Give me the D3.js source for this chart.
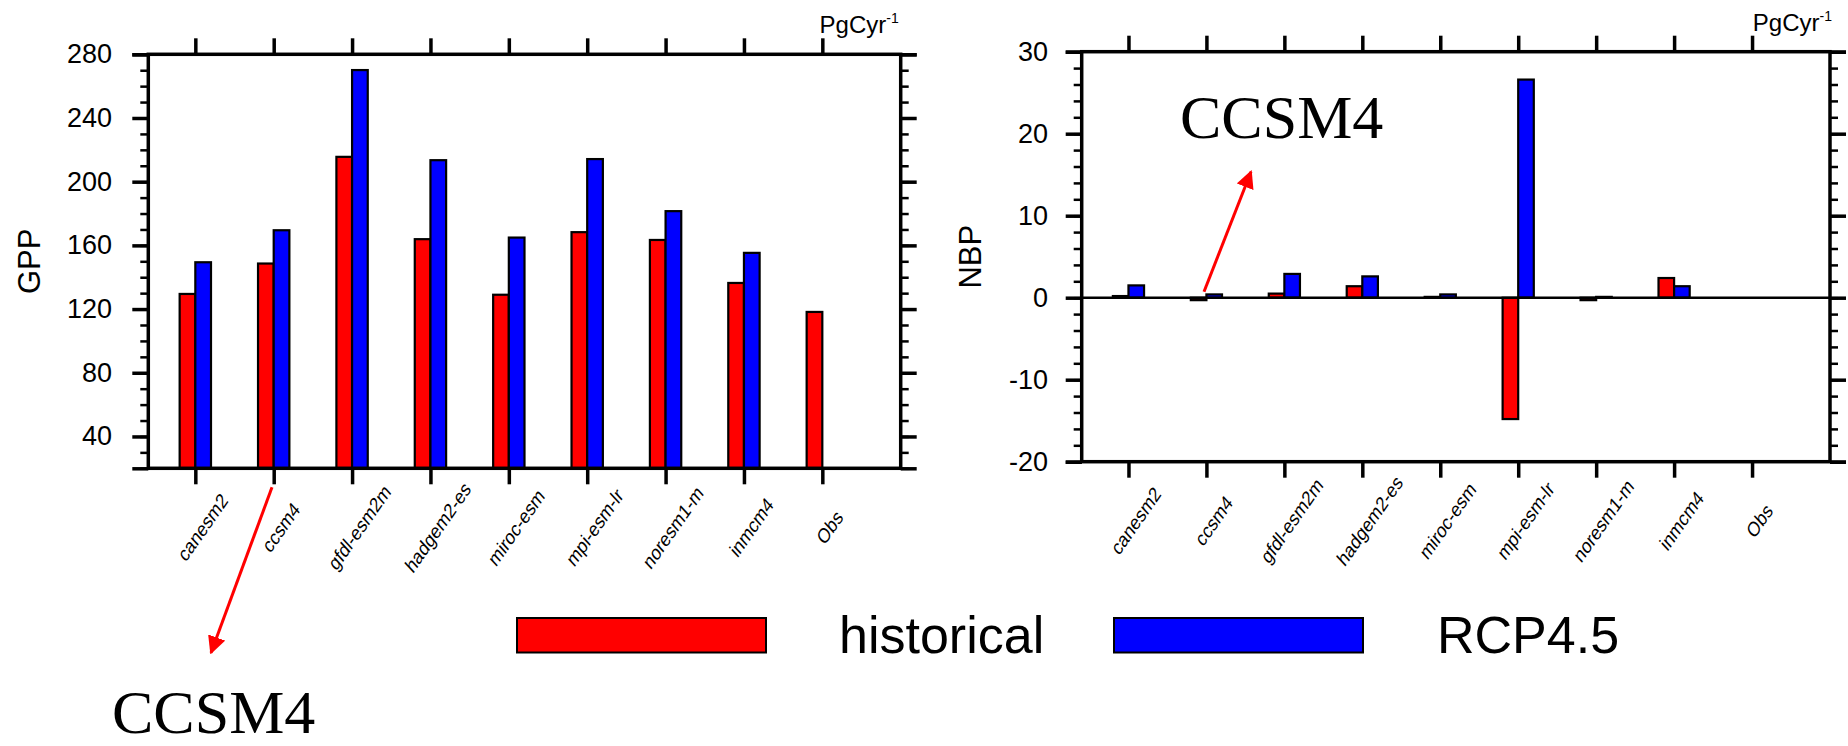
<!DOCTYPE html>
<html>
<head>
<meta charset="utf-8">
<script src="https://cdn.jsdelivr.net/npm/d3@7"></script>
<style>
  html, body { margin: 0; padding: 0; background: #fff; }
  svg { display: block; }
  text { font-family: "Liberation Sans", Arial, sans-serif; fill: #000; }
</style>
</head>
<body>
<svg id="chart" width="1848" height="746"></svg>
<script>
// ---------------- data ----------------
const categories = ["canesm2", "ccsm4", "gfdl-esm2m", "hadgem2-es", "miroc-esm", "mpi-esm-lr", "noresm1-m", "inmcm4", "Obs"];
const seriesNames = ["historical", "RCP4.5"];
const seriesColors = ["#ff0000", "#0000ff"];

const gppHistorical = [129.5, 148.6, 215.6, 163.9, 129.0, 168.3, 163.4, 136.4, 118.2];
const gppRCP45      = [149.4, 169.5, 270.1, 213.5, 164.9, 214.2, 181.5, 155.3, null];
const gppTicks = [40, 80, 120, 160, 200, 240, 280];
const gppMinorTicks = d3.range(20, 281, 10);

const nbpHistorical = [0.2, -0.3, 0.5, 1.4, 0.1, -14.8, -0.3, 2.4, null];
const nbpRCP45      = [1.5, 0.4, 2.9, 2.6, 0.4, 26.6, 0.1, 1.4, null];
const nbpTicks = [-20, -10, 0, 10, 20, 30];
const nbpMinorTicks = d3.range(-20, 31, 2);

const unitLabel = "PgCyr";

// ---------------- drawing ----------------
const svg = d3.select("#chart");

function drawPanel(cfg) {
  const g = svg.append("g");
  const x = d3.scaleLinear().domain([0.4, 10]).range([cfg.left, cfg.right]);
  const y = d3.scaleLinear().domain(cfg.yDomain).range([cfg.bottom, cfg.top]);
  const idx = categories.map((c, i) => i + 1);
  const base = cfg.baseline !== undefined ? cfg.baseline : cfg.yDomain[0];

  // bars
  const bw = 0.2;
  [cfg.hist, cfg.rcp].forEach((vals, s) => {
    g.append("g").selectAll("rect")
      .data(vals.map((v, i) => ({ v, i })).filter(d => d.v !== null))
      .join("rect")
      .attr("x", d => x(d.i + 1 + (s === 0 ? -bw : 0)))
      .attr("width", d => x(d.i + 1 + bw) - x(d.i + 1))
      .attr("y", d => y(Math.max(d.v, base)))
      .attr("height", d => Math.abs(y(d.v) - y(base)))
      .attr("fill", seriesColors[s])
      .attr("stroke", "#000")
      .attr("stroke-width", 2.2);
  });

  // zero reference line
  if (cfg.refLine !== undefined) {
    g.append("line")
      .attr("x1", cfg.left).attr("x2", cfg.right)
      .attr("y1", y(cfg.refLine)).attr("y2", y(cfg.refLine))
      .attr("stroke", "#000").attr("stroke-width", 2.5);
  }

  // frame
  g.append("rect")
    .attr("x", cfg.left).attr("y", cfg.top)
    .attr("width", cfg.right - cfg.left).attr("height", cfg.bottom - cfg.top)
    .attr("fill", "none").attr("stroke", "#000").attr("stroke-width", 3.5);

  function styleAxis(sel, w) {
    sel.select(".domain").remove();
    sel.selectAll(".tick line").attr("stroke", "#000").attr("stroke-width", w);
    sel.selectAll(".tick text").remove();
  }

  // y minor ticks (left & right)
  g.append("g").attr("transform", `translate(${cfg.left},0)`)
    .call(d3.axisLeft(y).tickValues(cfg.minorTicks).tickSize(8).tickFormat(""))
    .call(s => styleAxis(s, 2.5));
  g.append("g").attr("transform", `translate(${cfg.right},0)`)
    .call(d3.axisRight(y).tickValues(cfg.minorTicks).tickSize(8).tickFormat(""))
    .call(s => styleAxis(s, 2.5));
  // y major ticks
  g.append("g").attr("transform", `translate(${cfg.left},0)`)
    .call(d3.axisLeft(y).tickValues(cfg.ticks.concat(cfg.yDomain)).tickSize(16).tickFormat(""))
    .call(s => styleAxis(s, 3.5));
  g.append("g").attr("transform", `translate(${cfg.right},0)`)
    .call(d3.axisRight(y).tickValues(cfg.ticks.concat(cfg.yDomain)).tickSize(16).tickFormat(""))
    .call(s => styleAxis(s, 3.5));
  // x ticks (top & bottom)
  g.append("g").attr("transform", `translate(0,${cfg.top})`)
    .call(d3.axisTop(x).tickValues(idx).tickSize(16).tickFormat(""))
    .call(s => styleAxis(s, 3.5));
  g.append("g").attr("transform", `translate(0,${cfg.bottom})`)
    .call(d3.axisBottom(x).tickValues(idx).tickSize(16).tickFormat(""))
    .call(s => styleAxis(s, 3.5));

  // y tick labels
  g.append("g").selectAll("text")
    .data(cfg.ticks)
    .join("text")
    .attr("x", cfg.labelX)
    .attr("y", d => y(d))
    .attr("text-anchor", "end")
    .attr("dominant-baseline", "central")
    .attr("font-size", 27)
    .text(d => d);

  // category labels
  g.append("g").selectAll("text")
    .data(categories)
    .join("text")
    .attr("transform", (d, i) => `translate(${x(i + 1) + 7.5},${cfg.bottom + 59}) rotate(-55) skewX(-12)`)
    .attr("text-anchor", "middle")
    .attr("dominant-baseline", "central")
    .attr("font-size", 18.5)
    .text(d => d);

  // y title
  g.append("text")
    .attr("transform", `translate(${cfg.titleX},${(cfg.top + cfg.bottom) / 2}) rotate(-90)`)
    .attr("text-anchor", "middle")
    .attr("dominant-baseline", "central")
    .attr("font-size", 31)
    .text(cfg.title);

  // units
  const u = g.append("text")
    .attr("x", cfg.right + cfg.unitDx)
    .attr("y", cfg.unitY)
    .attr("text-anchor", "end")
    .attr("font-size", 24);
  u.append("tspan").text(unitLabel);
  u.append("tspan").attr("font-size", 14).attr("dy", -10).text("-1");
}

drawPanel({
  left: 148.3, right: 900.7, top: 54.3, bottom: 468.3,
  yDomain: [20, 280], ticks: gppTicks, minorTicks: gppMinorTicks,
  hist: gppHistorical, rcp: gppRCP45,
  labelX: 112, title: "GPP", titleX: 29,
  unitDx: -2, unitY: 33
});

drawPanel({
  left: 1081.7, right: 1830, top: 51.7, bottom: 461.7,
  yDomain: [-20, 30], ticks: nbpTicks, minorTicks: nbpMinorTicks,
  hist: nbpHistorical, rcp: nbpRCP45, baseline: 0, refLine: 0,
  labelX: 1048, title: "NBP", titleX: 970,
  unitDx: 2, unitY: 30.5
});

// ---------------- legend ----------------
const legend = svg.append("g");
const legendBoxes = [517, 1114];
const legendTextX = [839, 1437];
seriesNames.forEach((name, i) => {
  legend.append("rect")
    .attr("x", legendBoxes[i]).attr("y", 618)
    .attr("width", 249).attr("height", 34.5)
    .attr("fill", seriesColors[i]).attr("stroke", "#000").attr("stroke-width", 2);
  legend.append("text")
    .attr("x", legendTextX[i]).attr("y", 653)
    .attr("font-size", 52)
    .text(name);
});

// ---------------- annotations ----------------
svg.append("defs").append("marker")
  .attr("id", "arrowhead")
  .attr("viewBox", "0 0 10 10")
  .attr("refX", 9).attr("refY", 5)
  .attr("markerWidth", 6).attr("markerHeight", 6)
  .attr("markerUnits", "strokeWidth")
  .attr("orient", "auto")
  .append("path").attr("d", "M0,0 L10,5 L0,10 z").attr("fill", "#ff0000");

const annotations = [
  { from: [1204, 291.7], to: [1251, 171.7], text: "CCSM4", tx: 1180, ty: 138 },
  { from: [272, 487.3], to: [211, 652.7], text: "CCSM4", tx: 112, ty: 733 }
];
annotations.forEach(a => {
  svg.append("line")
    .attr("x1", a.from[0]).attr("y1", a.from[1])
    .attr("x2", a.to[0]).attr("y2", a.to[1])
    .attr("stroke", "#ff0000").attr("stroke-width", 3)
    .attr("marker-end", "url(#arrowhead)");
  svg.append("text")
    .attr("x", a.tx).attr("y", a.ty)
    .style("font-family", "'Liberation Serif', 'Times New Roman', serif")
    .attr("font-size", 62)
    .text(a.text);
});
</script>
</body>
</html>
